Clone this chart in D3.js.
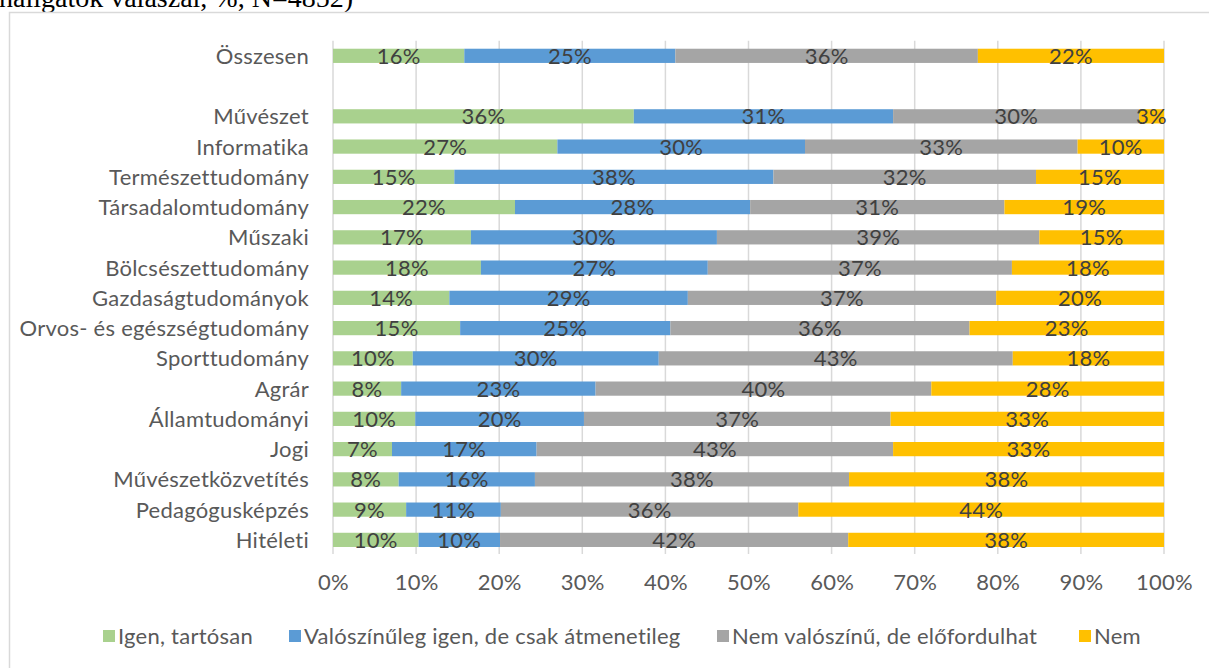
<!DOCTYPE html>
<html>
<head>
<meta charset="utf-8">
<script src="https://cdn.jsdelivr.net/npm/d3@7"></script>
<style>
  html, body { margin: 0; padding: 0; background: #fff; }
  svg { display: block; }
</style>
</head>
<body>
<svg id="chart" width="1209" height="668"></svg>
<script>
// Karok (an empty string keeps a blank row between the total and the fields)
const categories = [
  "Összesen", "",
  "Művészet", "Informatika", "Természettudomány", "Társadalomtudomány",
  "Műszaki", "Bölcsészettudomány", "Gazdaságtudományok",
  "Orvos- és egészségtudomány", "Sporttudomány", "Agrár", "Államtudományi",
  "Jogi", "Művészetközvetítés", "Pedagógusképzés", "Hitéleti"
];

const seriesNames = [
  "Igen, tartósan",
  "Valószínűleg igen, de csak átmenetileg",
  "Nem valószínű, de előfordulhat",
  "Nem"
];

// Shares in percent, one entry per category (null for the blank row)
const igenTartosan = [15.8, null, 36.2, 27.0, 14.6, 21.9, 16.6, 17.8, 14.0, 15.3, 9.6, 8.2, 9.9, 7.1, 7.9, 8.8, 10.3];
const atmenetileg  = [25.4, null, 31.2, 29.8, 38.4, 28.3, 29.6, 27.3, 28.7, 25.3, 29.6, 23.4, 20.3, 17.4, 16.4, 11.4, 9.8];
const eloFordulhat = [36.4, null, 29.6, 32.8, 31.6, 30.6, 38.8, 36.6, 37.1, 36.0, 42.6, 40.4, 36.9, 42.9, 37.8, 35.8, 41.9];
const nem          = [22.4, null, 3.0, 10.4, 15.4, 19.2, 15.0, 18.3, 20.2, 23.4, 18.2, 28.0, 32.9, 32.6, 37.9, 44.0, 38.0];

const tickValues = [0, 10, 20, 30, 40, 50, 60, 70, 80, 90, 100];

const colors = ["#A9D18E", "#5B9BD5", "#A5A5A5", "#FFC000"];
const seriesValues = [igenTartosan, atmenetileg, eloFordulhat, nem];

const svg = d3.select("#chart");
const font = "Lato, 'Open Sans', sans-serif";
const fontSize = 22;
const spacing = 0.25;

// Caption fragment above the chart frame
svg.append("text")
  .attr("x", -1).attr("y", 7)
  .attr("font-family", "'Liberation Serif', 'Times New Roman', serif")
  .attr("font-size", 28)
  .attr("fill", "#000")
  .text("hallgatók válaszai, %, N=4852)");

// Chart frame
svg.append("path")
  .attr("d", "M9.5,668 L9.5,12.5 L1209,12.5")
  .attr("fill", "none")
  .attr("stroke", "#d9d9d9")
  .attr("stroke-width", 1.5);

const x = d3.scaleLinear().domain([0, 100]).range([333, 1164]);
const y = d3.scaleBand()
  .domain(categories.map((c, i) => i))
  .range([40.7, 555])
  .paddingInner(0.53)
  .paddingOuter(0.265);

// Vertical gridlines
svg.append("g")
  .selectAll("line")
  .data(tickValues)
  .join("line")
  .attr("x1", d => x(d)).attr("x2", d => x(d))
  .attr("y1", 40.7).attr("y2", 554)
  .attr("stroke", "#d9d9d9")
  .attr("stroke-width", 1.5);

// Stack the series
const rows = categories.map((c, i) => {
  const r = { idx: i, name: c };
  seriesValues.forEach((s, k) => r["s" + k] = s[i]);
  return r;
}).filter(r => r.name !== "");

const stack = d3.stack().keys(["s0", "s1", "s2", "s3"]);
const stacked = stack(rows);

const layers = svg.append("g")
  .selectAll("g")
  .data(stacked)
  .join("g")
  .attr("fill", (d, i) => colors[i]);

layers.selectAll("rect")
  .data(d => d)
  .join("rect")
  .attr("x", d => x(d[0]))
  .attr("width", d => x(d[1]) - x(d[0]))
  .attr("y", d => y(d.data.idx))
  .attr("height", y.bandwidth());

// Data labels
const labels = svg.append("g")
  .attr("font-family", font)
  .attr("font-size", fontSize)
  .attr("letter-spacing", spacing)
  .attr("fill", "#404040")
  .attr("text-anchor", "middle");

stacked.forEach(layer => {
  labels.selectAll(null)
    .data(layer)
    .join("text")
    .attr("x", d => (x(d[0]) + x(d[1])) / 2)
    .attr("y", d => y(d.data.idx) + y.bandwidth() / 2)
    .attr("dy", "0.36em")
    .text(d => Math.round(d[1] - d[0]) + "%");
});

// Category axis labels
svg.append("g")
  .attr("font-family", font)
  .attr("font-size", fontSize)
  .attr("letter-spacing", spacing)
  .attr("fill", "#595959")
  .attr("text-anchor", "end")
  .selectAll("text")
  .data(rows)
  .join("text")
  .attr("x", 309)
  .attr("y", d => y(d.idx) + y.bandwidth() / 2)
  .attr("dy", "0.36em")
  .text(d => d.name);

// Value axis labels
const xAxis = svg.append("g")
  .attr("transform", "translate(0,574)")
  .call(d3.axisBottom(x).tickValues(tickValues).tickFormat(d => d + "%").tickSize(0).tickPadding(0));
xAxis.select(".domain").remove();
xAxis.selectAll("text")
  .attr("font-family", font)
  .attr("font-size", fontSize)
  .attr("letter-spacing", spacing)
  .attr("fill", "#595959")
  .attr("dy", "0.71em");

// Legend
const legendX = [103, 289, 717, 1079];
const legend = svg.append("g")
  .selectAll("g")
  .data(seriesNames)
  .join("g")
  .attr("transform", (d, i) => `translate(${legendX[i]},636)`);
legend.append("rect")
  .attr("x", 0).attr("y", -6)
  .attr("width", 12).attr("height", 12)
  .attr("fill", (d, i) => colors[i]);
legend.append("text")
  .attr("x", 15)
  .attr("dy", "0.36em")
  .attr("font-family", font)
  .attr("font-size", fontSize)
  .attr("letter-spacing", spacing)
  .attr("fill", "#595959")
  .text(d => d);
</script>
</body>
</html>
